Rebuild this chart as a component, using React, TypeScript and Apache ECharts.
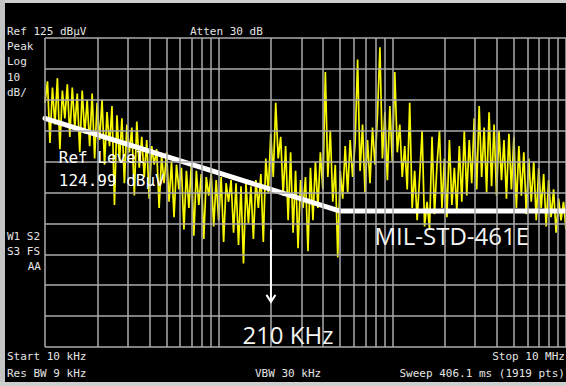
import React, { useEffect, useRef } from "react";
import * as echarts from "echarts";

// Sweep definition (kHz) and display reference (dBµV)
const startKHz = 10;
const stopKHz = 10000;
const refLevel = 125;
const bottomLevel = 25;

const trace: number[] = [
  104, 111, 91, 109, 97, 112, 89, 108, 99, 110,
  93, 109, 96, 107, 88, 108, 94, 105, 90, 107,
  86, 104, 92, 105, 84, 101, 90, 103, 71, 100,
  85, 99, 78, 97, 88, 96, 74, 98, 83, 93,
  80, 92, 73, 90, 84, 89, 70, 87, 78, 88,
  72, 85, 67, 84, 76, 83, 63, 82, 70, 84,
  61, 82, 71, 81, 60, 80, 74, 81, 64, 79,
  66, 80, 59, 78, 72, 79, 62, 78, 58, 77,
  52, 78, 65, 77, 60, 79, 70, 81, 59, 86,
  75, 94, 80, 104, 86, 93, 74, 90, 66, 88,
  62, 82, 57, 79, 70, 80, 56, 83, 66, 85,
  70, 88, 76, 114, 80, 95, 72, 84, 54, 82,
  73, 90, 75, 92, 80, 91, 118, 82, 97, 75,
  92, 78, 96, 84, 100, 122, 86, 101, 79, 103,
  85, 114, 88, 97, 80, 90, 76, 104, 70, 82,
  66, 80, 95, 64, 72, 63, 93, 68, 84, 95,
  70, 86, 67, 92, 71, 83, 69, 90, 72, 95,
  74, 92, 78, 99, 76, 103, 80, 96, 75, 101,
  77, 97, 74, 95, 79, 92, 73, 94, 76, 93,
  70, 90, 74, 88, 68, 86, 72, 85, 66, 83,
  70, 81, 64, 79, 67, 76, 62, 73, 66, 72, 63,
];

// MIL-STD-461E limit line
const limitFreqs = [10, 500, 10000];
const limitLevels = [99, 69, 69];

// Graticule
const gridFreqs = [
  10, 20, 30, 40, 50, 60, 70, 80, 90,
  100, 200, 300, 400, 500, 600, 700, 800, 900,
  1000, 2000, 3000, 4000, 5000, 6000, 7000, 8000, 9000, 10000,
];
const gridLevels = [25, 35, 45, 55, 65, 75, 85, 95, 105, 115, 125];

// Annotation
const markerFreq = 200;
const markerTop = 63;
const markerTip = 39.6;
const markerLabel = "210 KHz";
const limitLabel = "MIL-STD-461E";
const refLabel = ["Ref Level", "124.99 dBµV"];

const MONO = '"DejaVu Sans Mono", "Liberation Mono", monospace';
const SANS = '"Open Sans", "Noto Sans", sans-serif';
const INFO = "#e4e4e4";

export default function App() {
  const ref = useRef<HTMLDivElement>(null);
  useEffect(() => {
    const el = ref.current!;
    const chart = echarts.init(el, null, { renderer: "svg" });
    const n = trace.length;
    const freqs = trace.map((_, i) => startKHz * Math.pow(stopKHz / startKHz, i / (n - 1)));
    const gridLine = { color: "#ababab", width: 1.5, type: "solid" as const };

    const infoText = (text: string, x: number, y: number, align = "left") => ({
      type: "text",
      x,
      y,
      silent: true,
      style: {
        text,
        fill: INFO,
        fontFamily: MONO,
        fontSize: 11,
        align,
        verticalAlign: "middle",
      },
    });

    chart.setOption({
      animation: false,
      backgroundColor: "#000000",
      grid: { left: 45, top: 38, bottom: 39, right: -4, containLabel: false },
      xAxis: {
        type: "log",
        logBase: 10,
        min: startKHz,
        max: stopKHz,
        axisLine: { show: false },
        axisTick: { show: false },
        axisLabel: { show: false },
        splitLine: { show: false },
      },
      yAxis: {
        type: "value",
        min: bottomLevel,
        max: refLevel,
        axisLine: { show: false },
        axisTick: { show: false },
        axisLabel: { show: false },
        splitLine: { show: false },
      },
      series: [
        {
          type: "line",
          name: "graticule",
          data: [[startKHz, bottomLevel]],
          showSymbol: false,
          lineStyle: { opacity: 0 },
          silent: true,
          z: 1,
          markLine: {
            silent: true,
            symbol: ["none", "none"],
            label: { show: false },
            lineStyle: gridLine,
            emphasis: { disabled: true },
            data: [
              ...gridFreqs.map((f) => ({ xAxis: f })),
              ...gridLevels.map((l) => ({ yAxis: l })),
            ],
          },
        },
        {
          type: "line",
          name: "trace",
          data: freqs.map((f, i) => [f, trace[i]]),
          showSymbol: false,
          silent: true,
          lineStyle: { color: "#f7f700", width: 1.7 },
          z: 2,
        },
        {
          type: "line",
          name: "limit",
          data: limitFreqs.map((f, i) => [f, limitLevels[i]]),
          showSymbol: false,
          silent: true,
          lineStyle: { color: "#ffffff", width: 5, cap: "round", join: "round" },
          z: 3,
        },
      ],
    });

    const p = (f: number, d: number) => chart.convertToPixel({ gridIndex: 0 }, [f, d]) as number[];
    const top = p(markerFreq, markerTop);
    const tip = p(markerFreq, markerTip);
    const refPos = p(12, 86.2);
    const ref2Pos = p(12, 79);
    const limPos = p(789, 61.2);
    const mkPos = p(137, 29.2);

    chart.setOption({
      graphic: [
        { type: "rect", shape: { x: 0, y: 0, width: 566, height: 3 }, style: { fill: "#cfcfcf" }, silent: true },
        { type: "rect", shape: { x: 0, y: 0, width: 5, height: 386 }, style: { fill: "#c4c4c4" }, silent: true },
        { type: "rect", shape: { x: 0, y: 382, width: 566, height: 4 }, style: { fill: "#cfcfcf" }, silent: true },
        infoText("Ref 125 dBµV", 7, 31),
        infoText("Atten 30 dB", 190, 31),
        infoText("Peak", 7, 46),
        infoText("Log", 7, 61),
        infoText("10", 7, 77),
        infoText("dB/", 7, 92),
        infoText("W1 S2", 7, 236),
        infoText("S3 FS", 7, 251),
        infoText("AA", 41, 266, "right"),
        infoText("Start 10 kHz", 7, 356),
        infoText("Res BW 9 kHz", 7, 373),
        infoText("VBW 30 kHz", 255, 373),
        infoText("Stop 10 MHz", 565, 356, "right"),
        infoText("Sweep 406.1 ms (1919 pts)", 565, 373, "right"),
        {
          type: "text",
          x: refPos[0],
          y: refPos[1],
          silent: true,
          z: 10,
          style: { text: refLabel[0], fill: "#ffffff", fontFamily: MONO, fontSize: 16, verticalAlign: "middle" },
        },
        {
          type: "text",
          x: ref2Pos[0],
          y: ref2Pos[1],
          silent: true,
          z: 10,
          style: { text: refLabel[1], fill: "#ffffff", fontFamily: MONO, fontSize: 16, verticalAlign: "middle" },
        },
        {
          type: "text",
          x: limPos[0],
          y: limPos[1],
          silent: true,
          z: 10,
          style: { text: limitLabel, fill: "#f4f4f4", fontFamily: SANS, fontSize: 24, verticalAlign: "middle" },
        },
        {
          type: "text",
          x: mkPos[0],
          y: mkPos[1],
          silent: true,
          z: 10,
          style: { text: markerLabel, fill: "#f4f4f4", fontFamily: SANS, fontSize: 24, verticalAlign: "middle" },
        },
        {
          type: "line",
          silent: true,
          z: 10,
          shape: { x1: top[0], y1: top[1], x2: tip[0], y2: tip[1] },
          style: { stroke: "#ffffff", lineWidth: 2 },
        },
        {
          type: "polyline",
          silent: true,
          z: 10,
          shape: { points: [[tip[0] - 4.5, tip[1] - 7], [tip[0], tip[1]], [tip[0] + 4.5, tip[1] - 7]] },
          style: { stroke: "#ffffff", lineWidth: 2, fill: "none" },
        },
      ],
    });

    return () => chart.dispose();
  }, []);
  return <div ref={ref} style={{ position: "fixed", left: 0, top: 0, width: 566, height: 386 }} />;
}
